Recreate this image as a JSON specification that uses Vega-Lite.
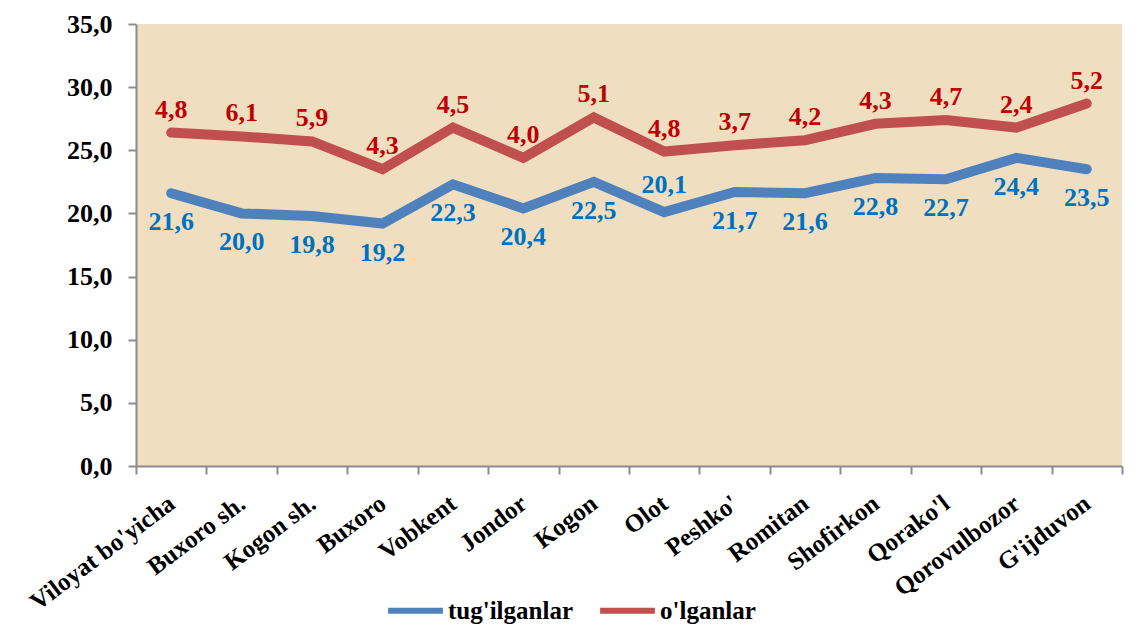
{
  "$schema": "https://vega.github.io/schema/vega-lite/v6.json",
  "width": 986,
  "height": 442,
  "autosize": {"type": "none"},
  "padding": {"left": 136, "top": 24, "right": 14, "bottom": 158},
  "background": "white",
  "config": {
    "locale": {"number": {"decimal": ",", "thousands": " ", "grouping": [3], "currency": ["", ""]}},
    "view": {"fill": "#EFDFC0", "stroke": null},
    "font": "Liberation Serif, Times New Roman, serif",
    "legend": {"labelFont": "Liberation Serif, Times New Roman, serif", "labelFontWeight": "bold", "labelFontSize": 25}
  },
  "data": {
    "values": [
      {"region": "Viloyat bo'yicha", "series": "tug'ilganlar", "value": 21.6},
      {"region": "Buxoro sh.", "series": "tug'ilganlar", "value": 20.0},
      {"region": "Kogon sh.", "series": "tug'ilganlar", "value": 19.8},
      {"region": "Buxoro", "series": "tug'ilganlar", "value": 19.2},
      {"region": "Vobkent", "series": "tug'ilganlar", "value": 22.3},
      {"region": "Jondor", "series": "tug'ilganlar", "value": 20.4},
      {"region": "Kogon", "series": "tug'ilganlar", "value": 22.5},
      {"region": "Olot", "series": "tug'ilganlar", "value": 20.1},
      {"region": "Peshko'", "series": "tug'ilganlar", "value": 21.7},
      {"region": "Romitan", "series": "tug'ilganlar", "value": 21.6},
      {"region": "Shofirkon", "series": "tug'ilganlar", "value": 22.8},
      {"region": "Qorako'l", "series": "tug'ilganlar", "value": 22.7},
      {"region": "Qorovulbozor", "series": "tug'ilganlar", "value": 24.4},
      {"region": "G'ijduvon", "series": "tug'ilganlar", "value": 23.5},
      {"region": "Viloyat bo'yicha", "series": "o'lganlar", "value": 4.8},
      {"region": "Buxoro sh.", "series": "o'lganlar", "value": 6.1},
      {"region": "Kogon sh.", "series": "o'lganlar", "value": 5.9},
      {"region": "Buxoro", "series": "o'lganlar", "value": 4.3},
      {"region": "Vobkent", "series": "o'lganlar", "value": 4.5},
      {"region": "Jondor", "series": "o'lganlar", "value": 4.0},
      {"region": "Kogon", "series": "o'lganlar", "value": 5.1},
      {"region": "Olot", "series": "o'lganlar", "value": 4.8},
      {"region": "Peshko'", "series": "o'lganlar", "value": 3.7},
      {"region": "Romitan", "series": "o'lganlar", "value": 4.2},
      {"region": "Shofirkon", "series": "o'lganlar", "value": 4.3},
      {"region": "Qorako'l", "series": "o'lganlar", "value": 4.7},
      {"region": "Qorovulbozor", "series": "o'lganlar", "value": 2.4},
      {"region": "G'ijduvon", "series": "o'lganlar", "value": 5.2}
    ]
  },
  "transform": [
    {"stack": "value", "groupby": ["region"], "sort": [{"field": "series", "order": "descending"}], "as": ["y0", "y1"]}
  ],
  "encoding": {
    "x": {
      "field": "region",
      "type": "nominal",
      "sort": ["Viloyat bo'yicha", "Buxoro sh.", "Kogon sh.", "Buxoro", "Vobkent", "Jondor", "Kogon", "Olot", "Peshko'", "Romitan", "Shofirkon", "Qorako'l", "Qorovulbozor", "G'ijduvon"],
      "scale": {"type": "band", "paddingInner": 0, "paddingOuter": 0},
      "bandPosition": 0.5,
      "axis": {
        "title": null,
        "labelAngle": -37,
        "labelAlign": "right",
        "labelBaseline": "middle",
        "labelPadding": 26,
        "labelDx": 4,
        "labelFontSize": 25,
        "labelFontWeight": "bold",
        "labelColor": "black",
        "labelFont": "Liberation Serif, Times New Roman, serif",
        "labelLimit": 400,
        "labelOverlap": false,
        "domainColor": "#8C8C8C",
        "domainWidth": 2,
        "tickColor": "#8C8C8C",
        "tickWidth": 2,
        "tickSize": 8,
        "tickBand": "extent"
      }
    },
    "y": {
      "field": "y1",
      "type": "quantitative",
      "scale": {"domain": [0, 35], "nice": false},
      "axis": {
        "title": null,
        "values": [0, 5, 10, 15, 20, 25, 30, 35],
        "format": ".1f",
        "grid": false,
        "labelFontSize": 26,
        "labelFontWeight": "bold",
        "labelColor": "black",
        "labelFont": "Liberation Serif, Times New Roman, serif",
        "labelPadding": 16,
        "domainColor": "#8C8C8C",
        "domainWidth": 2,
        "tickColor": "#8C8C8C",
        "tickWidth": 2,
        "tickSize": 8
      }
    }
  },
  "layer": [
    {
      "mark": {"type": "line", "strokeWidth": 10, "strokeCap": "round", "strokeJoin": "miter"},
      "encoding": {
        "color": {
          "field": "series",
          "type": "nominal",
          "scale": {"domain": ["tug'ilganlar", "o'lganlar"], "range": ["#4F81BD", "#C0504D"]},
          "legend": {
            "title": null,
            "orient": "none",
            "direction": "horizontal",
            "legendX": 249,
            "legendY": 556,
            "symbolType": "stroke",
            "symbolStrokeWidth": 6,
            "symbolSize": 3000,
            "labelFontSize": 25,
            "labelFontWeight": "bold",
            "labelFont": "Liberation Serif, Times New Roman, serif",
            "labelColor": "black",
            "labelOffset": 2,
            "columnPadding": 14
          }
        }
      }
    },
    {
      "transform": [{"filter": "datum.series === \"tug'ilganlar\" && datum.region !== 'Olot'"}],
      "mark": {"type": "text", "dy": 29, "fontSize": 26, "fontWeight": "bold", "font": "Liberation Serif, Times New Roman, serif", "color": "#0070C0"},
      "encoding": {"text": {"field": "value", "type": "quantitative", "format": ".1f"}}
    },
    {
      "transform": [{"filter": "datum.series === \"tug'ilganlar\" && datum.region === 'Olot'"}],
      "mark": {"type": "text", "dy": -27, "fontSize": 26, "fontWeight": "bold", "font": "Liberation Serif, Times New Roman, serif", "color": "#0070C0"},
      "encoding": {"text": {"field": "value", "type": "quantitative", "format": ".1f"}}
    },
    {
      "transform": [{"filter": "datum.series === \"o'lganlar\""}],
      "mark": {"type": "text", "dy": -23, "fontSize": 26, "fontWeight": "bold", "font": "Liberation Serif, Times New Roman, serif", "color": "#C00000"},
      "encoding": {"text": {"field": "value", "type": "quantitative", "format": ".1f"}}
    }
  ]
}
